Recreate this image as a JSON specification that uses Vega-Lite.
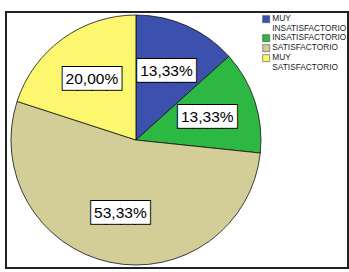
{
  "$schema": "https://vega.github.io/schema/vega-lite/v6.json",
  "width": 349,
  "height": 272,
  "autosize": {"type": "fit", "contains": "padding"},
  "padding": {"left": 6, "top": 12, "right": 1, "bottom": 4},
  "background": "white",
  "config": {
    "view": {"stroke": "#222222", "strokeWidth": 2},
    "locale": {"number": {"decimal": ",", "thousands": ".", "grouping": [3], "currency": ["", "€"]}}
  },
  "data": {
    "values": [
      {"categoria": "MUY INSATISFACTORIO", "orden": 1, "prop": 0.1333},
      {"categoria": "INSATISFACTORIO", "orden": 2, "prop": 0.1333},
      {"categoria": "SATISFACTORIO", "orden": 3, "prop": 0.5333},
      {"categoria": "MUY SATISFACTORIO", "orden": 4, "prop": 0.2}
    ]
  },
  "encoding": {
    "theta": {"field": "prop", "type": "quantitative", "stack": true},
    "order": {"field": "orden", "type": "quantitative"},
    "x": {"datum": 0.38, "type": "quantitative", "scale": {"domain": [0, 1]}, "axis": null}
  },
  "layer": [
    {
      "mark": {"type": "arc", "outerRadius": 125, "stroke": "#111111", "strokeWidth": 0.8},
      "encoding": {
        "color": {
          "field": "categoria",
          "type": "nominal",
          "scale": {
            "domain": ["MUY INSATISFACTORIO", "INSATISFACTORIO", "SATISFACTORIO", "MUY SATISFACTORIO"],
            "range": ["#3c50ae", "#2db843", "#d3cd97", "#fcf76f"]
          },
          "legend": {
            "title": null,
            "orient": "none",
            "legendX": 256,
            "legendY": 3,
            "symbolType": "square",
            "symbolSize": 49,
            "symbolStrokeColor": "#333333",
            "symbolStrokeWidth": 0.5,
            "labelFont": "Liberation Sans",
            "labelFontSize": 8.3,
            "labelColor": "#222222",
            "labelOffset": 2,
            "labelBaseline": "middle",
            "rowPadding": 0,
            "labelLimit": 100,
            "labelExpr": "split(datum.label, ' ')"
          }
        }
      }
    },
    {
      "mark": {"type": "text", "radius": 75, "text": "████", "font": "DejaVu Sans", "fontSize": 19, "fill": "black", "stroke": "black", "strokeWidth": 2, "baseline": "middle"}
    },
    {
      "mark": {"type": "text", "radius": 75, "text": "████", "font": "DejaVu Sans", "fontSize": 19, "fill": "white", "baseline": "middle"}
    },
    {
      "mark": {"type": "text", "radius": 75, "font": "Liberation Sans", "fontSize": 15.5, "fill": "black", "baseline": "middle"},
      "encoding": {"text": {"field": "prop", "type": "quantitative", "format": ".2%"}}
    }
  ]
}
